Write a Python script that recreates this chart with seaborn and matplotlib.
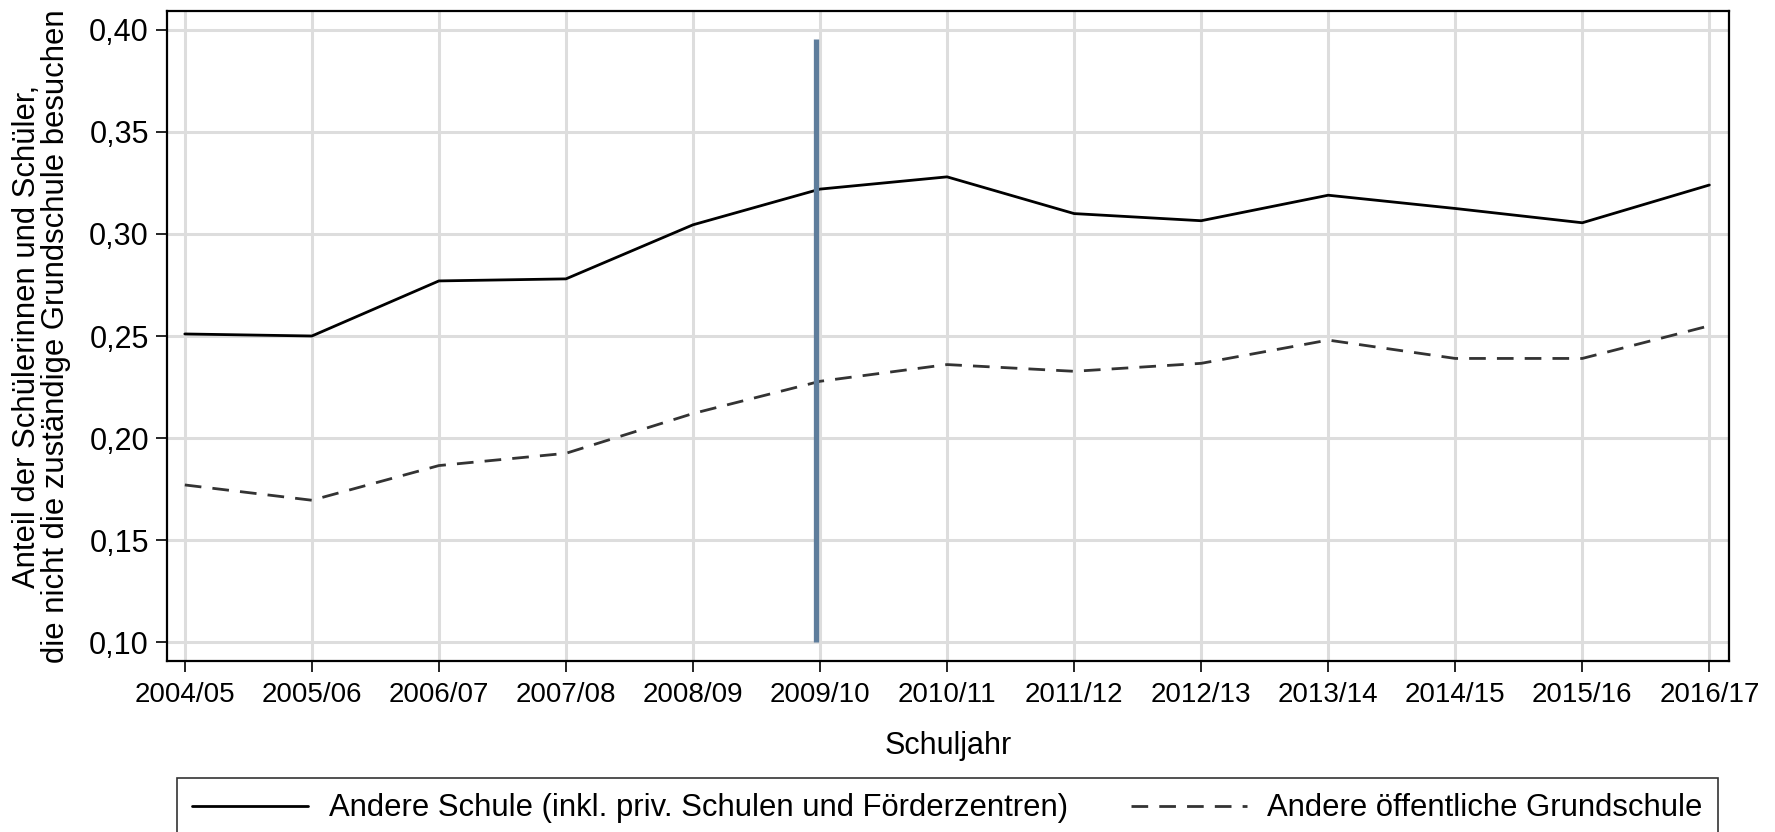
import numpy as np
import pandas as pd
import matplotlib
matplotlib.use("Agg")
import matplotlib.pyplot as plt
import seaborn as sns

# Daten
schuljahre = ["2004/05", "2005/06", "2006/07", "2007/08", "2008/09", "2009/10",
              "2010/11", "2011/12", "2012/13", "2013/14", "2014/15", "2015/16", "2016/17"]
andere_schule = [0.251, 0.250, 0.277, 0.278, 0.3045, 0.322, 0.328,
                 0.310, 0.3065, 0.319, 0.3125, 0.3055, 0.324]
andere_grundschule = [0.177, 0.1695, 0.1865, 0.1925, 0.212, 0.2278, 0.236,
                      0.2327, 0.2366, 0.248, 0.239, 0.239, 0.255]
yticks = [0.10, 0.15, 0.20, 0.25, 0.30, 0.35, 0.40]
reform_jahr = "2009/10"
reform_bereich = (0.10, 0.3955)

label_a = "Andere Schule (inkl. priv. Schulen und Förderzentren)"
label_b = "Andere öffentliche Grundschule"

sns.set_theme(style="white")
plt.rcParams["font.family"] = ["Liberation Sans", "DejaVu Sans"]
plt.rcParams["font.size"] = 22
plt.rcParams["text.color"] = "black"
plt.rcParams["axes.labelcolor"] = "black"
plt.rcParams["xtick.color"] = "black"
plt.rcParams["ytick.color"] = "black"

df = pd.DataFrame({"pos": np.arange(len(schuljahre)),
                   "a": andere_schule, "b": andere_grundschule})

fig = plt.figure(figsize=(17.75, 8.32), dpi=100)
ax = fig.add_axes([0.0941, 0.2055, 0.9741 - 0.0941, 0.9868 - 0.2055])

sns.lineplot(data=df, x="pos", y="a", ax=ax, color="black", linewidth=2.0,
             label=label_a)
sns.lineplot(data=df, x="pos", y="b", ax=ax, color="#333333", linewidth=2.0,
             label=label_b)
ax.lines[1].set_dashes((6, 4))

# vertikale Linie (Reform)
x_reform = schuljahre.index(reform_jahr) - 0.03
ax.vlines(x_reform, reform_bereich[0], reform_bereich[1], color="#5e7d9c",
          linewidth=3.8, zorder=3)

ax.set_xlim(-0.14, len(schuljahre) - 1 + 0.155)
ax.set_ylim(0.0907, 0.4093)
ax.set_xticks(np.arange(len(schuljahre)))
ax.set_xticklabels(schuljahre, fontsize=20)
ax.set_yticks(yticks)
ax.set_yticklabels([f"{v:.2f}".replace(".", ",") for v in yticks], fontsize=22)

ax.grid(True, color="#dddddd", linewidth=2.2)
ax.set_axisbelow(True)
for s in ax.spines.values():
    s.set_color("black")
    s.set_linewidth(1.6)
ax.tick_params(axis="both", direction="out", length=8, width=1.2, color="black",
               bottom=True, left=True, pad=5)
ax.tick_params(axis="x", pad=7)

ax.set_xlabel("Schuljahr", fontsize=22, labelpad=17)
ax.set_ylabel("Anteil der Schülerinnen und Schüler,\ndie nicht die zuständige Grundschule besuchen",
              fontsize=22.3, labelpad=13, linespacing=0.95)

ax.get_legend().remove()
handles, labels = ax.get_legend_handles_labels()
leg = fig.legend(handles, labels, loc="upper center", bbox_to_anchor=(0.5338, 0.0649),
                 ncol=2, frameon=True, fancybox=False, edgecolor="black",
                 fontsize=22.3, handlelength=3.75, handletextpad=0.65,
                 columnspacing=2.05, borderpad=0.5, borderaxespad=0)
leg.get_frame().set_linewidth(1.2)

fig.savefig("out.png", dpi=100)
plt.close(fig)
